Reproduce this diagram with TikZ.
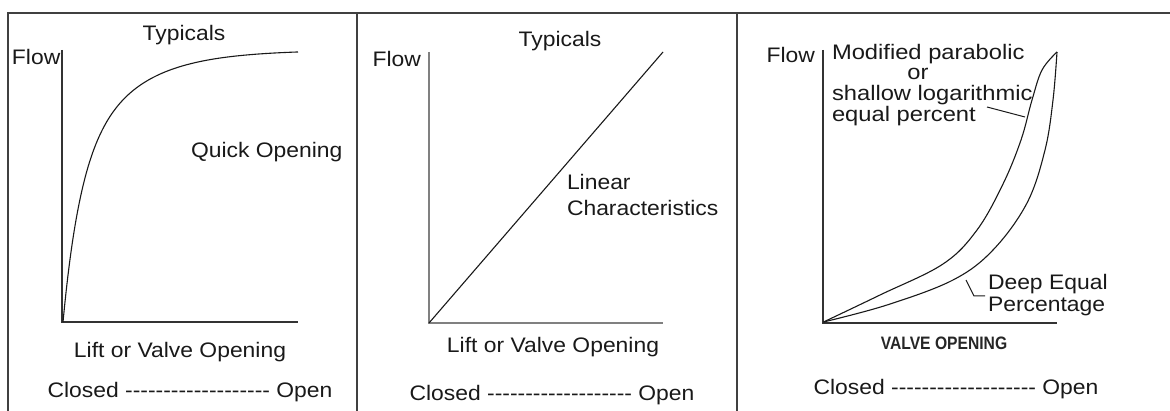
\documentclass[tikz,border=0pt]{standalone}
\usepackage{fontspec}
\setmainfont{Liberation Sans}[FakeStretch=1.09]
\newfontfamily\widerfont{Liberation Sans}[FakeStretch=1.13]
\newfontfamily\narrowbold{Liberation Sans Bold}[FakeStretch=0.87]
\newcommand{\dashrow}{-{}-{}-{}-{}-{}-{}-{}-{}-{}-{}-{}-{}-{}-{}-{}-{}-{}-{}-}
\begin{document}
\begin{tikzpicture}[x=1pt,y=-1pt,
  lbl/.style={inner sep=0pt,outer sep=0pt,text=black!90,font=\fontsize{21}{21}\selectfont},
  lblb/.style={lbl,font=\fontsize{21}{21}\widerfont},
  small/.style={inner sep=0pt,outer sep=0pt,text=black!85,font=\fontsize{18}{18}\narrowbold},
  frame/.style={draw=black!75,line width=1.4pt},
  axis/.style={draw=black!80,line width=1.2pt},
  axisgray/.style={draw=black!50,line width=1.4pt},
  curve/.style={draw=black!90,line width=1.1pt,line join=round},
  leader/.style={draw=black!90,line width=1pt}]
\useasboundingbox (0,0) rectangle (1170,411);
% frame
\draw[frame] (8,411) -- (8,13) -- (1170,13);
\draw[frame] (357,13) -- (357,411);
\draw[frame] (737,13) -- (737,411);

% ---------- Panel 1: quick opening
\coordinate (o1) at (62,322);
\draw[axis] (62,50) -- (o1) -- (298,322);
\draw[curve] plot[domain=63:298,samples=150]
  (\x,{322-272*(1-0.5*exp(-0.06*(\x-63))-0.5*exp(-0.018*(\x-63)))});
\node[lbl,anchor=base west] (flow1) at (12,65) {Flow};
\node[lbl,anchor=base] (typ1) at (184,41) {Typicals};
\node[lbl,anchor=base west] (quick) at (191,158) {Quick Opening};
\node[lbl,anchor=base] (lift1) at (180,358) {Lift or Valve Opening};
\node[lbl,anchor=base] (co1) at (190,398) {Closed \dashrow{} Open};

% ---------- Panel 2: linear
\coordinate (o2) at (429,323);
\coordinate (t2) at (663,52);
\draw[axisgray] (429,52) -- (o2) -- (663,323);
\draw[curve] (o2) -- (t2);
\node[lbl,anchor=base east] (flow2) at (421,67) {Flow};
\node[lbl,anchor=base] (typ2) at (560,47) {Typicals};
\node[lbl,anchor=base west] (lin) at (567,190) {Linear};
\node[lbl,anchor=base west] (char) at (567,216) {Characteristics};
\node[lbl,anchor=base] (lift2) at (553,353) {Lift or Valve Opening};
\node[lbl,anchor=base] (co2) at (552,400) {Closed \dashrow{} Open};

% ---------- Panel 3: equal percentage
\coordinate (o3) at (823,323);
\draw[axis] (823,50) -- (o3) -- (1057,323);
\draw[curve] plot[smooth,tension=0.6] coordinates
  {(823.5,322) (880,295) (943,264) (977,230) (1003,184) (1021,140) (1032,100) (1042,70) (1057,52)};
\draw[curve] plot[smooth,tension=0.6] coordinates
  {(823.5,322) (887,305) (953,280) (993,250) (1027,203) (1045,150) (1053,100) (1057,52)};
\node[lbl,anchor=base east] (flow3) at (815,63) {Flow};
\node[lblb,anchor=base west] (mod) at (832,60) {Modified parabolic};
\node[lblb,anchor=base] (or) at (918,80) {or};
\node[lblb,anchor=base west] (shal) at (832,101) {shallow logarithmic};
\node[lblb,anchor=base west] (eqp) at (832,122) {equal percent};
\coordinate (l1a) at (987,107);
\coordinate (l1b) at (1025,117);
\draw[leader] (l1a) -- (l1b);
\node[lbl,anchor=base west] (deep) at (988,290) {Deep Equal};
\node[lbl,anchor=base west] (perc) at (988,312) {Percentage};
\coordinate (l2a) at (966,280);
\coordinate (l2b) at (974,296);
\coordinate (l2c) at (985,296);
\draw[leader] (l2a) -- (l2b) -- (l2c);
\node[small,anchor=base] (vo) at (944,350) {VALVE OPENING};
\node[lbl,anchor=base] (co3) at (956,395) {Closed \dashrow{} Open};
\end{tikzpicture}
\end{document}
